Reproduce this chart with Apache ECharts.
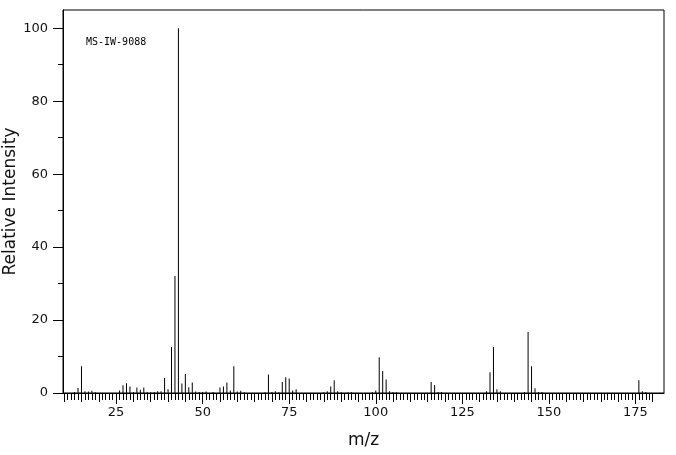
<!DOCTYPE html>
<html>
<head>
<meta charset="utf-8" />
<title>MS-IW-9088</title>
<script src="https://cdn.jsdelivr.net/npm/echarts@6/dist/echarts.min.js"></script>
<style>
	html,body{ margin:0; padding:0; background:#fff;}
	#chart{ width:676px; height:455px;}
</style>
</head>
<body>
<div id="chart"></div>
<script>
	// m/z of each peak and its relative intensity (%)
	var mz = [13,14,15,16,17,18,19,26,27,28,29,30,31,32,33,34,35,36,37,38,39,40,41,42,43,44,45,46,47,48,49,50,51,53,
		55,56,57,58,59,60,61,62,68,69,70,71,72,73,74,75,76,77,85,86,87,88,89,90,92,93,
		99,100,101,102,103,104,105,106,116,117,118,119,132,133,134,135,136,143,144,145,146,147,148,176,177,178];
	var intensity = [0.3,1.4,7.3,0.5,0.4,0.6,0.2,0.7,2.1,2.7,1.8,0.3,1.5,0.9,1.5,0.2,0.2,0.3,0.5,0.5,4.1,1.0,12.6,32.1,100,2.6,5.2,1.6,2.9,0.4,0.3,0.3,0.4,0.3,
		1.5,1.8,2.9,0.7,7.3,0.4,0.6,0.2,0.2,5.1,0.3,0.5,0.2,3.0,4.3,4.0,0.7,1.0,0.2,0.5,1.8,3.5,0.5,0.2,0.2,0.2,
		0.2,0.7,9.8,6.0,3.7,0.5,0.3,0.2,3.0,2.2,0.3,0.3,0.5,5.7,12.6,1.0,0.5,0.3,16.7,7.3,1.3,0.3,0.3,3.5,0.5,0.3];
	var xLabels = [25,50,75,100,125,150,175];
	var yLabels = [0,20,40,60,80,100];
	var yMinor = [10,30,50,70,90];

	var xMin = 9.66, xMax = 183.26;
	var font = 'DejaVu Sans';

	var ticks1 = [], ticks5 = [];
	for(var v=10; v<=180; v++){
		ticks1.push(v);
		if(v%5==0) ticks5.push(v);
	}

	var peaks = [];
	for(var i=0;i<mz.length;i++){
		peaks.push([mz[i], intensity[i]]);
	}

	// one bottom axis per tick length, all stacked on the same line
	function xAxis(ticks, len, labels, name){
		return {
			type:'value', position:'bottom', min:xMin, max:xMax,
			name:name || '', nameLocation:'middle', nameGap:39, nameMoveOverlap:false,
			nameTextStyle:{ fontFamily:font, fontSize:17, color:'#111'},
			axisLine:{ show:!!name, lineStyle:{ color:'#000', width:1}},
			axisTick:{ show:true, length:len, customValues:ticks, lineStyle:{ color:'#000', width:1}},
			axisLabel:{ show:!!labels, customValues:labels || [], margin:13, fontFamily:font, fontSize:13, color:'#111'},
			splitLine:{ show:false}
		};
	}

	var chart = echarts.init(document.getElementById('chart'));
	chart.setOption({
		animation:false,
		backgroundColor:'#fff',
		grid:{ left:63, right:12, top:10, bottom:62, containLabel:false, outerBoundsMode:'none',
			show:true, borderColor:'#000', borderWidth:1},
		xAxis:[
			xAxis(xLabels, 11, xLabels, 'm/z'),
			xAxis(ticks5, 9),
			xAxis(ticks1, 7)
		],
		yAxis:[
			{
				type:'value', min:0, max:105, position:'left',
				name:'Relative Intensity', nameLocation:'middle', nameGap:44, nameMoveOverlap:false,
				nameTextStyle:{ fontFamily:font, fontSize:17, color:'#111'},
				axisLine:{ show:true, lineStyle:{ color:'#000'}},
				axisTick:{ show:true, length:10, customValues:yLabels, lineStyle:{ color:'#000'}},
				axisLabel:{ customValues:yLabels, margin:15, fontFamily:font, fontSize:13, color:'#111'},
				splitLine:{ show:false}
			},
			{
				type:'value', min:0, max:105, position:'left',
				axisLine:{ show:false},
				axisTick:{ show:true, length:5, customValues:yMinor, lineStyle:{ color:'#000'}},
				axisLabel:{ show:false},
				splitLine:{ show:false}
			}
		],
		graphic:[
			{ type:'text', left:86, top:37, style:{ text:'MS-IW-9088', font:'10px "DejaVu Sans Mono"', fill:'#000'}}
		],
		series:[
			{
				type:'bar', xAxisIndex:0, yAxisIndex:0,
				barWidth:1, data:peaks,
				itemStyle:{ color:'#000'},
				silent:true
			}
		]
	});
</script>
</body>
</html>
